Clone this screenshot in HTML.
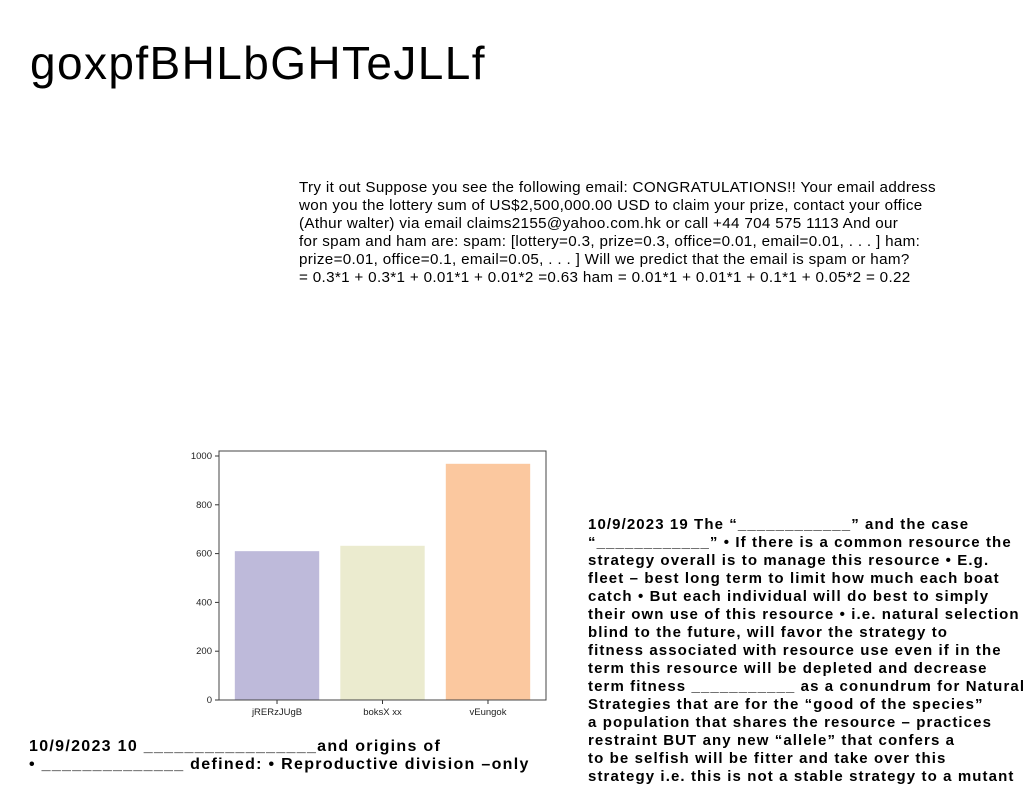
<!DOCTYPE html>
<html><head><meta charset="utf-8"><style>
body{margin:0;width:1024px;height:788px;background:#fff;position:relative;overflow:hidden;font-family:"Liberation Sans",sans-serif;color:#000}
.t{position:absolute;white-space:nowrap}
#title{left:30px;top:36px;font-size:46px;letter-spacing:1.4px}
.p{left:299px;font-size:15.2px;line-height:18px;letter-spacing:0.33px}
.r{left:588px;font-size:15px;font-weight:bold;letter-spacing:1.1px}
.b{left:29px;font-size:16px;font-weight:bold;letter-spacing:1.3px}
</style></head><body>
<div class="t" id="title">goxpfBHLbGHTeJLLf</div>
<div>
<div class="t p" style="top:179px">Try it out Suppose you see the following email: CONGRATULATIONS!! Your email address</div>
<div class="t p" style="top:197px">won you the lottery sum of US$2,500,000.00 USD to claim your prize, contact your office</div>
<div class="t p" style="top:215px">(Athur walter) via email claims2155@yahoo.com.hk or call +44 704 575 1113 And our</div>
<div class="t p" style="top:233px">for spam and ham are: spam: [lottery=0.3, prize=0.3, office=0.01, email=0.01, . . . ] ham:</div>
<div class="t p" style="top:251px">prize=0.01, office=0.1, email=0.05, . . . ] Will we predict that the email is spam or ham?</div>
<div class="t p" style="top:269px">= 0.3*1 + 0.3*1 + 0.01*1 + 0.01*2 =0.63 ham = 0.01*1 + 0.01*1 + 0.1*1 + 0.05*2 = 0.22</div>
</div>
<div>
<div class="t r" style="top:516px">10/9/2023 19 The “____________” and the case</div>
<div class="t r" style="top:534px">“____________” • If there is a common resource the</div>
<div class="t r" style="top:552px">strategy overall is to manage this resource • E.g.</div>
<div class="t r" style="top:570px">fleet – best long term to limit how much each boat</div>
<div class="t r" style="top:588px">catch • But each individual will do best to simply</div>
<div class="t r" style="top:606px">their own use of this resource • i.e. natural selection</div>
<div class="t r" style="top:624px">blind to the future, will favor the strategy to</div>
<div class="t r" style="top:642px">fitness associated with resource use even if in the</div>
<div class="t r" style="top:660px">term this resource will be depleted and decrease</div>
<div class="t r" style="top:678px">term fitness ___________ as a conundrum for Natural</div>
<div class="t r" style="top:696px">Strategies that are for the “good of the species”</div>
<div class="t r" style="top:714px">a population that shares the resource – practices</div>
<div class="t r" style="top:732px">restraint BUT any new “allele” that confers a</div>
<div class="t r" style="top:750px">to be selfish will be fitter and take over this</div>
<div class="t r" style="top:768px">strategy i.e. this is not a stable strategy to a mutant</div>
</div>
<div>
<div class="t b" style="top:738px">10/9/2023 10 _________________and origins of</div>
<div class="t b" style="top:756px">• ______________ defined: • Reproductive division –only</div>
</div>
<svg id="chart" style="position:absolute;left:0;top:0" width="1024" height="788"></svg>
<script>
const categories=["jRERzJUgB","boksX xx","vEungok"];
const values=[610,632,968];
const colors=["#bebada","#ebebcf","#fbc89f"];
const yTicks=[0,200,400,600,800,1000];
const NS="http://www.w3.org/2000/svg";
const svg=document.getElementById('chart');
const L=219,R=546,T=451,B=700;
const y=v=>B-v*0.244;
const unit=(R-L)/3.1;
const x=i=>L+unit*(0.55+i);
function mk(tag,a,txt){const e=document.createElementNS(NS,tag);for(const k in a)e.setAttribute(k,a[k]);if(txt!==undefined)e.textContent=txt;svg.appendChild(e);return e;}
categories.forEach((c,i)=>{
 const h=y(0)-y(values[i]);
 const r=mk('rect',{x:x(i)-unit*0.4,y:y(values[i]),width:unit*0.8,height:h,fill:colors[i]});
 
 
 mk('line',{x1:x(i),x2:x(i),y1:B,y2:B+4,stroke:'#333','stroke-width':1});
 const t=mk('text',{x:x(i),y:B+15,'font-size':9.5,'text-anchor':'middle',fill:'#222','font-family':'Liberation Sans, sans-serif'},c);
 
 
});
yTicks.forEach(v=>{
 mk('line',{x1:L-4,x2:L,y1:y(v),y2:y(v),stroke:'#333','stroke-width':1});
 const t=mk('text',{x:L-7,y:y(v)+3,'font-size':9.5,'text-anchor':'end',fill:'#222','font-family':'Liberation Sans, sans-serif'},v);
 
 
});
const f=mk('rect',{x:L,y:T,width:R-L,height:B-T,fill:'none',stroke:'#444','stroke-width':1});


</script>
</body></html>
